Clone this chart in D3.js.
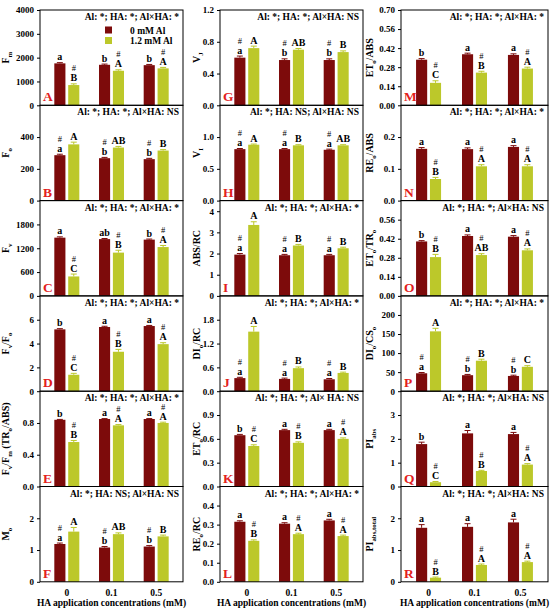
<!DOCTYPE html>
<head>
<meta charset="utf-8">
<script src="https://d3js.org/d3.v7.min.js"></script>
<style>
  body { margin:0; background:#fff; }
  text { font-family: "Liberation Serif", "Times New Roman", serif; font-weight: bold; }
</style>
</head>
<body>
<div id="chart"></div>
<script>
  var width = 550, height = 613;

  // ---- data ----
  var haLevels = ["0", "0.1", "0.5"];
  var seriesNames = ["0 mM Al", "1.2 mM Al"];
  var panelIds = ["A","B","C","D","E","F","G","H","I","J","K","L","M","N","O","P","Q","R"];
  var yLabels = ["F_{m}","F_{o}","F_{v}","F_{v}/F_{o}","F_{v}/F_{m} (TR_{o}/ABS)","M_{o}",
                 "V_{J}","V_{I}","ABS/RC","DI_{o}/RC","ET_{o}/RC","RE_{o}/RC",
                 "ET_{o}/ABS","RE_{o}/ABS","ET_{o}/TR_{o}","DI_{o}/CS_{o}","PI_{abs}","PI_{abs,total}"];
  var statsText = [
    "Al: *; HA: *; Al\u00d7HA: *", "Al: *; HA: *; Al\u00d7HA: NS", "Al: *; HA: *; Al\u00d7HA: *",
    "Al: *; HA: *; Al\u00d7HA: *", "Al: *; HA: *; Al\u00d7HA: *", "Al: *; HA: NS; Al\u00d7HA: NS",
    "Al: *; HA: *; Al\u00d7HA: NS", "Al: *; HA: NS; Al\u00d7HA: NS", "Al: *; HA: *; Al\u00d7HA: *",
    "Al: *; HA: *; Al\u00d7HA: *", "Al: *; HA: *; Al\u00d7 HA: NS", "Al: *; HA: *; Al\u00d7HA: *",
    "Al: *; HA: *; Al\u00d7HA: *", "Al: *; HA: *; Al\u00d7HA: *", "Al: *; HA: *; Al\u00d7HA: NS",
    "Al: *; HA: *; Al\u00d7HA: *", "Al: *; HA: *; Al\u00d7HA: NS", "Al: *; HA: *; Al\u00d7HA: NS"];
  var yMax = [4000, 600, 2400, 8, 1.2, 3, 1.2, 1.5, 4.5, 2.4, 1.2, 0.5, 0.70, 0.3, 0.70, 250, 4, 3];
  var yTicks = [
    [0,1000,2000,3000,4000], [0,200,400], [0,600,1200,1800], [0,2,4,6], [0,0.4,0.8], [0,1,2],
    [0,0.4,0.8,1.2], [0,0.5,1.0], [0,1,2,3,4], [0,0.6,1.2,1.8], [0,0.3,0.6,0.9], [0,0.1,0.2,0.3,0.4],
    [0,0.14,0.28,0.42,0.56,0.70], [0,0.1,0.2], [0,0.14,0.28,0.42,0.56], [0,50,100,150,200], [0,1,2,3], [0,1,2]];
  var tickDecimals = [0,0,0,0,1,0, 1,1,0,1,1,1, 2,1,2,0,0,0];

  var ctrlMeans = [
    [1760,1700,1685], [286,267,261], [1467,1430,1417], [5.19,5.39,5.47], [0.84,0.85,0.85], [1.19,1.08,1.11],
    [0.60,0.57,0.57], [0.81,0.81,0.80], [1.95,1.92,1.92], [0.33,0.31,0.30], [0.646,0.71,0.71], [0.315,0.305,0.322],
    [0.335,0.375,0.37], [0.163,0.162,0.169], [0.40,0.44,0.435], [47,42,40], [1.78,2.23,2.2], [1.7,1.73,1.87]];
  var alMeans = [
    [850,1450,1550], [354,334,315], [490,1090,1230], [1.38,3.31,3.95], [0.56,0.77,0.80], [1.58,1.5,1.43],
    [0.72,0.70,0.67], [0.88,0.87,0.87], [3.35,2.38,2.25], [1.5,0.58,0.46], [0.51,0.55,0.60], [0.215,0.25,0.24],
    [0.165,0.24,0.27], [0.068,0.108,0.108], [0.285,0.30,0.335], [157,80,64], [0.18,0.65,0.92], [0.13,0.53,0.62]];
  var ctrlErr = [
    [30,30,30], [6,5,5], [20,15,15], [0.06,0.06,0.05], [0.005,0.005,0.005], [0.03,0.03,0.03],
    [0.02,0.015,0.015], [0.01,0.01,0.01], [0.05,0.04,0.04], [0.02,0.02,0.02], [0.01,0.01,0.01], [0.005,0.005,0.006],
    [0.008,0.008,0.008], [0.004,0.004,0.004], [0.006,0.008,0.008], [2,2,2], [0.08,0.12,0.07], [0.1,0.1,0.1]];
  var alErr = [
    [50,40,40], [14,7,6], [60,60,40], [0.12,0.2,0.12], [0.02,0.01,0.01], [0.13,0.04,0.04],
    [0.025,0.015,0.015], [0.01,0.01,0.01], [0.15,0.05,0.05], [0.13,0.03,0.02], [0.015,0.012,0.012], [0.005,0.005,0.005],
    [0.015,0.01,0.01], [0.005,0.005,0.005], [0.02,0.01,0.01], [8,4,3], [0.03,0.03,0.04], [0.02,0.03,0.03]];
  var ctrlLetters = [
    ["a","b","b"],["a","b","b"],["a","ab","b"],["b","a","a"],["b","a","a"],["a","b","b"],
    ["a","b","b"],["a","a","a"],["a","a","a"],["a","a","a"],["b","a","a"],["a","a","a"],
    ["b","a","a"],["a","a","a"],["b","a","a"],["a","b","b"],["b","a","a"],["a","a","a"]];
  var alLetters = [
    ["B","A","A"],["A","AB","B"],["C","B","A"],["C","B","A"],["B","A","A"],["A","AB","B"],
    ["A","AB","B"],["A","B","AB"],["A","B","B"],["A","B","B"],["C","B","A"],["B","A","A"],
    ["C","B","A"],["B","A","A"],["B","AB","A"],["A","B","C"],["C","B","A"],["B","A","A"]];
  // which series carries the "#" mark: 0 = 0 mM Al bars, 1 = 1.2 mM Al bars
  var hashOn = [1,0,1,1,1,0, 0,0,0,0,1,1, 1,1,1,0,1,1];

  // ---- layout ----
  var colLeft = [40, 220, 401];
  var colRight = [183, 363, 548];
  var labelOffset = [31, 20, 28];
  var top0 = 10, panelH = 95.3;
  var colors = ["#7d0b0b", "#bcc82a"];

  var svg = d3.select("#chart").append("svg")
    .attr("width", width).attr("height", height);

  // text with _{sub} pieces -> tspans
  function richText(sel, str, size) {
    var parts = str.split(/(_\{[^}]*\})/).filter(function(s){ return s.length; });
    var shifted = false;
    parts.forEach(function(p){
      if (p.indexOf("_{") === 0) {
        sel.append("tspan").attr("font-size", size*0.68).attr("dy", shifted ? 0 : size*0.28)
          .text(p.slice(2, -1));
        shifted = true;
      } else {
        sel.append("tspan").attr("font-size", size).attr("dy", shifted ? -size*0.28 : 0).text(p);
        shifted = false;
      }
    });
  }

  panelIds.forEach(function(id, i){
    var col = Math.floor(i/6), row = i % 6;
    var left = colLeft[col], right = colRight[col];
    var ptop = top0 + row*panelH, pbot = ptop + panelH;
    var g = svg.append("g");

    var x = d3.scalePoint().domain(haLevels).range([left, right]).padding(0.6);
    var xs = d3.scaleBand().domain([0,1]).range([-12.5, 12.5]).paddingInner(0.2);
    var y = d3.scaleLinear().domain([0, yMax[i]]).range([pbot, ptop]);

    // bars
    var rows = [];
    haLevels.forEach(function(h, k){
      rows.push({h:h, s:0, v:ctrlMeans[i][k], e:ctrlErr[i][k], l:ctrlLetters[i][k], hash:hashOn[i]===0});
      rows.push({h:h, s:1, v:alMeans[i][k], e:alErr[i][k], l:alLetters[i][k], hash:hashOn[i]===1});
    });
    var bw = xs.bandwidth();
    g.selectAll("rect.bar").data(rows).enter().append("rect")
      .attr("class","bar")
      .attr("x", function(d){ return x(d.h) + xs(d.s); })
      .attr("y", function(d){ return y(d.v); })
      .attr("width", bw)
      .attr("height", function(d){ return y(0) - y(d.v); })
      .attr("fill", function(d){ return colors[d.s]; });

    // error bars
    var eb = g.selectAll("g.err").data(rows).enter().append("g")
      .attr("stroke", function(d){ return colors[d.s]; }).attr("stroke-width", 1);
    eb.append("line")
      .attr("x1", function(d){ return x(d.h) + xs(d.s) + bw/2; })
      .attr("x2", function(d){ return x(d.h) + xs(d.s) + bw/2; })
      .attr("y1", function(d){ return y(d.v); })
      .attr("y2", function(d){ return y(d.v + d.e); });
    eb.append("line")
      .attr("x1", function(d){ return x(d.h) + xs(d.s) + bw/2 - 3; })
      .attr("x2", function(d){ return x(d.h) + xs(d.s) + bw/2 + 3; })
      .attr("y1", function(d){ return y(d.v + d.e); })
      .attr("y2", function(d){ return y(d.v + d.e); });

    // letters and #
    g.selectAll("text.let").data(rows).enter().append("text")
      .attr("x", function(d){ return x(d.h) + xs(d.s) + bw/2; })
      .attr("y", function(d){ return y(d.v + d.e) - 2.5; })
      .attr("text-anchor","middle").attr("font-size", 10).attr("fill","#000")
      .text(function(d){ return d.l; });
    g.selectAll("text.hash").data(rows.filter(function(d){ return d.hash; })).enter().append("text")
      .attr("x", function(d){ return x(d.h) + xs(d.s) + bw/2; })
      .attr("y", function(d){ return y(d.v + d.e) - 12.5; })
      .attr("text-anchor","middle").attr("font-size", 8.5).style("font-weight","normal").attr("fill","#000")
      .text("#");

    // frame
    g.append("rect").attr("x", left).attr("y", ptop).attr("width", right-left).attr("height", panelH)
      .attr("fill","none").attr("stroke","#000").attr("stroke-width",1);

    // y axis
    var fmt = d3.format("." + tickDecimals[i] + "f");
    var ax = g.append("g").attr("transform","translate(" + left + ",0)")
      .call(d3.axisLeft(y).tickValues(yTicks[i]).tickFormat(fmt).tickSize(3).tickPadding(3));
    ax.select(".domain").remove();
    ax.selectAll("text").attr("font-size", 9).attr("fill","#000");

    // y label
    var lx = left - labelOffset[col];
    var lbl = g.append("text").attr("transform","translate(" + lx + "," + ((ptop+pbot)/2) + ") rotate(-90)")
      .attr("text-anchor","middle").attr("fill","#000");
    richText(lbl, yLabels[i], 10);

    // stats line
    g.append("text").attr("x", right - 4).attr("y", ptop + 10).attr("text-anchor","end")
      .attr("font-size", 9.5).attr("fill","#000").text(statsText[i]);

    // panel letter
    g.append("text").attr("x", left + 3).attr("y", pbot - 4).attr("font-size", 13.5)
      .attr("fill","#e3201b").text(id);

    // legend in first panel
    if (i === 0) {
      seriesNames.forEach(function(n, k){
        var ly = ptop + 20 + k*10.5;
        g.append("rect").attr("x", left + 65).attr("y", ly - 3.5).attr("width", 7).attr("height", 7)
          .attr("fill", colors[k]);
        g.append("text").attr("x", left + 90).attr("y", ly + 3.5).attr("font-size", 9.5)
          .attr("fill","#000").text(n);
      });
    }

    // x labels on bottom row
    if (row === 5) {
      g.selectAll("text.xl").data(haLevels).enter().append("text")
        .attr("x", function(d){ return x(d); }).attr("y", pbot + 14)
        .attr("text-anchor","middle").attr("font-size", 9.5).attr("fill","#000")
        .text(function(d){ return d; });
      g.append("text").attr("x", (left+right)/2).attr("y", pbot + 24.5)
        .attr("text-anchor","middle").attr("font-size", 9.5).attr("fill","#000")
        .text("HA application concentrations (mM)");
    }
  });
</script>
</body>
